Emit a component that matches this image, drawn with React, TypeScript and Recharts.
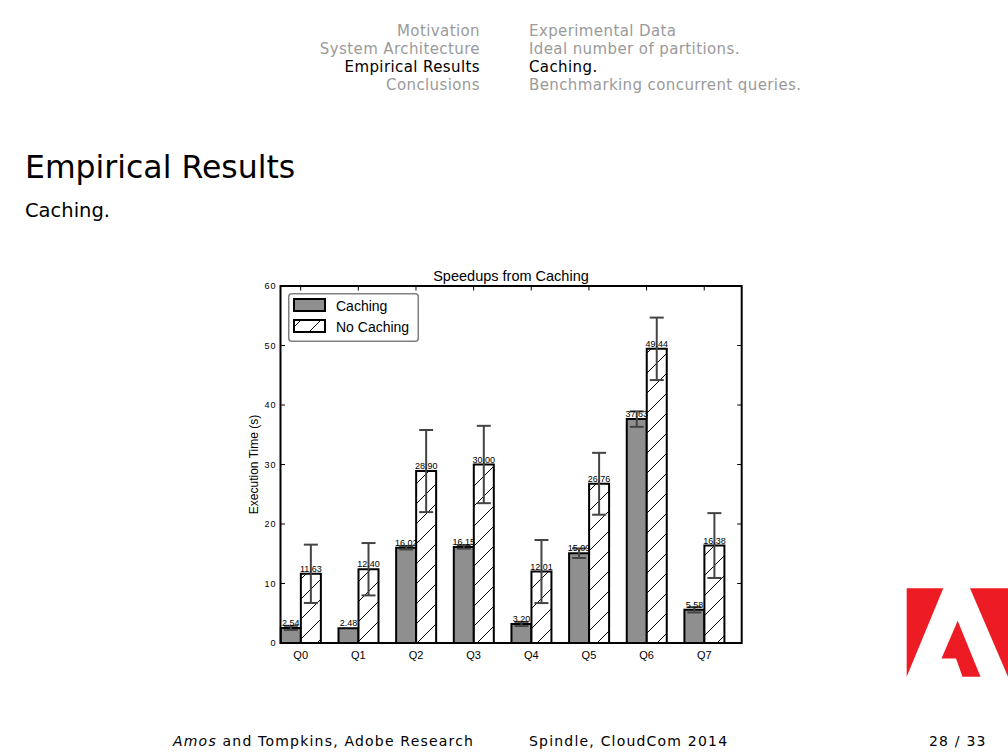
import React from 'react';
import {BarChart, Bar, XAxis, YAxis, ErrorBar, LabelList, Legend, ReferenceArea} from 'recharts';

// values
const queries = ['Q0', 'Q1', 'Q2', 'Q3', 'Q4', 'Q5', 'Q6', 'Q7'];
const caching = [2.54, 2.48, 16.02, 16.15, 3.2, 15.09, 37.63, 5.58];
const noCaching = [11.63, 12.4, 28.9, 30.0, 12.01, 26.76, 49.44, 16.38];
const cachingErr = [0.35, 0, 0.3, 0.3, 0.35, 0.8, 1.3, 0.45];
const noCachingErr = [4.9, 4.4, 6.9, 6.5, 5.3, 5.2, 5.25, 5.45];
const yTicks = [0, 10, 20, 30, 40, 50, 60];

const headerLeft = ['Motivation', 'System Architecture', 'Empirical Results', 'Conclusions'];
const headerRight = ['Experimental Data', 'Ideal number of partitions.', 'Caching.', 'Benchmarking concurrent queries.'];
const activeRow = 2;

// matplotlib style: bars of width 0.35 start at the integer position, tick sits between them
const BAR_W = 0.35;
const data = queries.map((q, i) => ({
    q,
    x: i + BAR_W,
    caching: caching[i],
    noCaching: noCaching[i],
    cachingErr: cachingErr[i],
    noCachingErr: noCachingErr[i],
}));
const xTicks = data.map(d => d.x);

const PLOT = {left: 280.5, top: 286, right: 741.7, bottom: 643};
const Y_W = 53;
const X_H = 24;
const TICK = 4.5;
const chartFont = '"Liberation Sans", Arial, sans-serif';
const slideFont = '"DejaVu Sans", sans-serif';
const GREY = '#8f8f8f';

const XTick = (props: any) => {
    const {x, payload} = props;
    const label = queries[Math.round(payload.value - BAR_W)];
    return (
        <g>
            <line x1={x} x2={x} y1={PLOT.bottom} y2={PLOT.bottom - TICK} stroke="#000" strokeWidth={1}/>
            <line x1={x} x2={x} y1={PLOT.top} y2={PLOT.top + TICK} stroke="#000" strokeWidth={1}/>
            <text x={x} y={PLOT.bottom + 16} textAnchor="middle" fontSize={11} fontFamily={chartFont} fill="#000">{label}</text>
        </g>
    );
};

const YTick = (props: any) => {
    const {y, payload} = props;
    return (
        <g>
            <line x1={PLOT.left} x2={PLOT.left + TICK} y1={y} y2={y} stroke="#000" strokeWidth={1}/>
            <line x1={PLOT.right - TICK} x2={PLOT.right} y1={y} y2={y} stroke="#000" strokeWidth={1}/>
            <text x={PLOT.left - 4} y={y + 3} textAnchor="end" fontSize={9} letterSpacing={1} fontFamily={chartFont} fill="#000">{payload.value}</text>
        </g>
    );
};

const LegendBox = () => (
    <svg width={131} height={49} style={{display: 'block'}}>
        <defs>
            <pattern id="hatchLegend" patternUnits="userSpaceOnUse" width={20} height={20}>
                <line x1={0} y1={20} x2={20} y2={0} stroke="#000" strokeWidth={1}/>
            </pattern>
        </defs>
        <rect x={0.75} y={0.75} width={129.5} height={47.5} rx={3} fill="#fff" stroke="#808080" strokeWidth={1.5}/>
        <rect x={6} y={6} width={31} height={12} fill={GREY} stroke="#000" strokeWidth={2}/>
        <text x={48} y={18} fontSize={14} fontFamily={chartFont} fill="#000">Caching</text>
        <rect x={6} y={27} width={31} height={12} fill="url(#hatchLegend)" stroke="#000" strokeWidth={2}/>
        <text x={48} y={39} fontSize={14} fontFamily={chartFont} fill="#000">No Caching</text>
    </svg>
);

const fmt = (v: any) => Number(v).toFixed(2);

const Slide = () => (
    <svg width={1008} height={756} style={{position: 'absolute', left: 0, top: 0}}>
        {headerLeft.map((t, i) => (
            <text key={t} x={480} y={36 + i * 18} textAnchor="end" fontSize={15} letterSpacing={0.4}
                  fontFamily={slideFont} fill={i === activeRow ? '#000' : '#9a9a9a'}>{t}</text>
        ))}
        {headerRight.map((t, i) => (
            <text key={t} x={529} y={36 + i * 18} fontSize={15} letterSpacing={0.4}
                  fontFamily={slideFont} fill={i === activeRow ? '#000' : '#9a9a9a'}>{t}</text>
        ))}
        <text x={25} y={178} fontSize={31.5} fontFamily={slideFont} fill="#000">Empirical Results</text>
        <text x={25} y={217} fontSize={19.5} fontFamily={slideFont} fill="#000">Caching.</text>

        <text x={511} y={281} textAnchor="middle" fontSize={14.5} fontFamily={chartFont} fill="#000">Speedups from Caching</text>

        <text x={173} y={746} fontSize={14} letterSpacing={1.2} fontFamily={slideFont} fill="#000">
            <tspan fontStyle="italic">Amos</tspan> and Tompkins, Adobe Research
        </text>
        <text x={529} y={746} fontSize={14} letterSpacing={1.2} fontFamily={slideFont} fill="#000">Spindle, CloudCom 2014</text>
        <text x={929} y={746} fontSize={14} letterSpacing={1.2} fontFamily={slideFont} fill="#000">28 / 33</text>

        {/* Adobe logo */}
        <polygon points="906.7,588.3 943.3,588.3 906.7,676.7" fill="#ed1c24"/>
        <polygon points="970,588.3 1008,588.3 1008,676.7" fill="#ed1c24"/>
        <polygon points="957.7,620.7 980.5,676.7 962.5,676.7 956,658.5 941.5,658.5" fill="#ed1c24"/>
    </svg>
);

export default function App() {
    return (
        <div style={{position: 'absolute', left: 0, top: 0, width: 1008, height: 756, background: '#fff'}}>
            <Slide/>
            <div style={{position: 'absolute', left: 0, top: 0}}>
                <BarChart
                    width={1008}
                    height={756}
                    data={data}
                    barGap={0}
                    margin={{top: PLOT.top, right: 1008 - PLOT.right, bottom: 756 - PLOT.bottom - X_H, left: PLOT.left - Y_W}}
                >
                    <defs>
                        <pattern id="hatch" patternUnits="userSpaceOnUse" width={20} height={20}>
                            <rect width={20} height={20} fill="#fff"/>
                            <line x1={0} y1={20} x2={20} y2={0} stroke="#000" strokeWidth={1}/>
                        </pattern>
                    </defs>
                    <XAxis type="number" dataKey="x" domain={[0, 8]} ticks={xTicks} interval={0}
                           height={X_H} axisLine={false} tickLine={false} tick={<XTick/>}/>
                    <YAxis type="number" domain={[0, 60]} ticks={yTicks} interval={0} width={Y_W}
                           axisLine={false} tickLine={false} tick={<YTick/>}
                           label={{value: 'Execution Time (s)', angle: -90, position: 'center', fontSize: 12, fontFamily: chartFont, fill: '#000'}}/>
                    <Legend verticalAlign="middle" align="center" layout="horizontal" content={<LegendBox/>}
                            wrapperStyle={{left: 288, top: 293, width: 131, height: 49}}/>
                    <Bar dataKey="caching" name="Caching" fill={GREY} stroke="#000" strokeWidth={2} barSize={20}
                         isAnimationActive={false}>
                        <LabelList dataKey="caching" position="top" offset={2} formatter={fmt}
                                   style={{fontSize: 9, fontFamily: chartFont, fill: '#000'}}/>
                        <ErrorBar dataKey="cachingErr" width={7} stroke="#444" strokeWidth={2} direction="y"/>
                    </Bar>
                    <Bar dataKey="noCaching" name="No Caching" fill="url(#hatch)" stroke="#000" strokeWidth={2} barSize={20}
                         isAnimationActive={false}>
                        <LabelList dataKey="noCaching" position="top" offset={2} formatter={fmt}
                                   style={{fontSize: 9, fontFamily: chartFont, fill: '#000'}}/>
                        <ErrorBar dataKey="noCachingErr" width={7} stroke="#444" strokeWidth={2} direction="y"/>
                    </Bar>
                    <ReferenceArea y1={0} y2={60} fill="none" stroke="#000" strokeWidth={2} ifOverflow="visible"/>
                </BarChart>
            </div>
        </div>
    );
}
